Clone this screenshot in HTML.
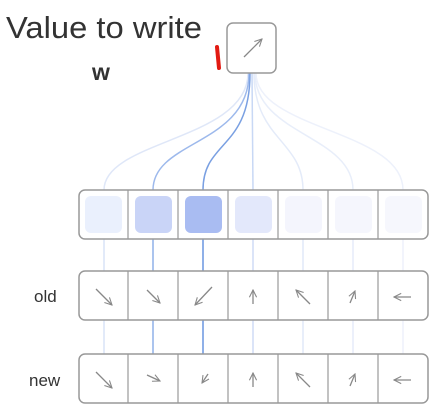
<!DOCTYPE html>
<html><head><style>
body{margin:0;background:#fff;width:443px;height:410px;overflow:hidden}
</style></head><body>
<svg width="443" height="410" viewBox="0 0 443 410" xmlns="http://www.w3.org/2000/svg" font-family="Liberation Sans, sans-serif">
<defs>
<marker id="ah" viewBox="0 0 10 10" refX="9" refY="5" markerWidth="9" markerHeight="9" orient="auto-start-reverse" markerUnits="userSpaceOnUse">
<path d="M1,1 L9,5 L1,9" fill="none" stroke="#888" stroke-width="1.2"/>
</marker>
</defs>
<text x="6" y="38" font-size="31" fill="#333" textLength="196" lengthAdjust="spacingAndGlyphs">Value to write</text>
<text x="92" y="80" font-size="23" font-weight="bold" fill="#333">w</text>
<path d="M217,47 L219,68" stroke="#e21a12" stroke-width="4" stroke-linecap="round"/>
<g fill="none" stroke-width="1.5">
<path d="M248,73 C248,140 104,140 104,190" stroke="#dfe7f8"/>
<path d="M249,73 C249,145 153,140 153,190" stroke="#9db9ec"/>
<path d="M250,73 C250,150 203,140 203,190" stroke="#7aa0e2"/>
<path d="M252,73 L253,190" stroke="#c8d8f5"/>
<path d="M254,73 C254,140 303,140 303,190" stroke="#e4ebf9"/>
<path d="M255,73 C255,135 353,135 353,190" stroke="#e8eefa"/>
<path d="M256,73 C256,130 403,130 403,190" stroke="#edf1fb"/>
</g>
<g stroke-width="1.5">
<line x1="104" y1="239" x2="104" y2="403" stroke="#d8e3f7"/>
<line x1="153" y1="239" x2="153" y2="403" stroke="#8fb0e8"/>
<line x1="203" y1="239" x2="203" y2="403" stroke="#6a96e0"/>
<line x1="253" y1="239" x2="253" y2="403" stroke="#cfdcf6"/>
<line x1="303" y1="239" x2="303" y2="403" stroke="#e1e9f9"/>
<line x1="353" y1="239" x2="353" y2="403" stroke="#e6ecfa"/>
<line x1="403" y1="239" x2="403" y2="403" stroke="#edf1fb"/>
</g>
<rect x="227" y="23" width="49" height="50" rx="6" fill="#fff" stroke="#999" stroke-width="1.5"/>
<line x1="244" y1="57" x2="262" y2="39" stroke="#888" stroke-width="1.3" marker-end="url(#ah)"/>
<g stroke="#999" stroke-width="1.5">
<rect x="79" y="190" width="349" height="49" rx="6" fill="#fff"/>
<rect x="79" y="271" width="349" height="49" rx="6" fill="#fff"/>
<rect x="79" y="354" width="349" height="49" rx="6" fill="#fff"/>
</g>
<g stroke="#999" stroke-width="1.2">
<path d="M128,190v49M178,190v49M228,190v49M278,190v49M328,190v49M378,190v49"/>
<path d="M128,271v49M178,271v49M228,271v49M278,271v49M328,271v49M378,271v49"/>
<path d="M128,354v49M178,354v49M228,354v49M278,354v49M328,354v49M378,354v49"/>
</g>
<rect x="85" y="196" width="37" height="37" rx="6" fill="#eaf0fd"/>
<rect x="135" y="196" width="37" height="37" rx="6" fill="#c9d4f7"/>
<rect x="185" y="196" width="37" height="37" rx="6" fill="#a9bcf2"/>
<rect x="235" y="196" width="37" height="37" rx="6" fill="#e3e8fb"/>
<rect x="285" y="196" width="37" height="37" rx="6" fill="#f4f5fd"/>
<rect x="335" y="196" width="37" height="37" rx="6" fill="#f5f6fd"/>
<rect x="385" y="196" width="37" height="37" rx="6" fill="#f6f7fd"/>
<text x="34" y="302" font-size="17" fill="#333">old</text>
<text x="29" y="386" font-size="17" fill="#333">new</text>
<g stroke="#888" stroke-width="1.3" marker-end="url(#ah)">
<line x1="96" y1="289" x2="112" y2="305"/>
<line x1="147" y1="290" x2="160" y2="303"/>
<line x1="212" y1="287" x2="195" y2="305"/>
<line x1="253" y1="304" x2="253" y2="290"/>
<line x1="310" y1="304" x2="296" y2="290"/>
<line x1="350" y1="303" x2="355" y2="291"/>
<line x1="411" y1="297" x2="394" y2="297"/>
<line x1="96" y1="372" x2="112" y2="388"/>
<line x1="147" y1="375" x2="160" y2="381"/>
<line x1="208" y1="374" x2="202" y2="383"/>
<line x1="253" y1="387" x2="253" y2="373"/>
<line x1="310" y1="387" x2="296" y2="373"/>
<line x1="350" y1="386" x2="355" y2="374"/>
<line x1="411" y1="380" x2="394" y2="380"/>
</g>
</svg>
</body></html>
